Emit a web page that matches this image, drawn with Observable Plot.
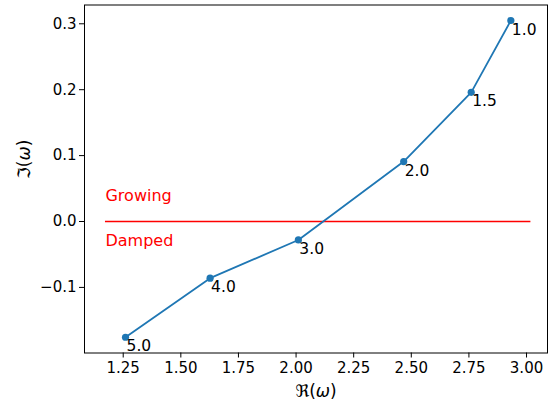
<!DOCTYPE html>
<html>
<head>
<meta charset="utf-8">
<script src="https://cdn.jsdelivr.net/npm/d3@7"></script>
<script src="https://cdn.jsdelivr.net/npm/@observablehq/plot@0.6"></script>
<style>
  html, body { margin: 0; padding: 0; background: #fff; }
  svg { display: block; }
</style>
</head>
<body>
<div id="chart"></div>
<script>
// Complex frequency ω for each parameter value
const params = ["5.0", "4.0", "3.0", "2.0", "1.5", "1.0"];
const reOmega = [1.26, 1.627, 2.01, 2.467, 2.76, 2.932];
const imOmega = [-0.1756, -0.086, -0.028, 0.091, 0.196, 0.305];

// Stability boundary and region labels
const boundaryX = [1.173, 3.019];
const regionText = ["Growing", "Damped"];
const regionY = [0.039, -0.030];

const xTicks = [1.25, 1.5, 1.75, 2.0, 2.25, 2.5, 2.75, 3.0];
const yTicks = [-0.1, 0.0, 0.1, 0.2, 0.3];

const points = params.map((p, i) => ({label: p, re: reOmega[i], im: imOmega[i]}));
const regions = regionText.map((t, i) => ({text: t, x: boundaryX[0], y: regionY[i]}));

const fmt = (d, n) => d.toFixed(n).replace("-", "\u2212");
const font = "'DejaVu Sans', sans-serif";

const chart = Plot.plot({
  width: 548,
  height: 400,
  marginLeft: 84,
  marginRight: 1,
  marginTop: 4.5,
  marginBottom: 47.5,
  style: {fontFamily: font, fontSize: "15px", color: "#000", background: "#fff"},
  x: {domain: [1.082, 3.091]},
  y: {domain: [-0.1995, 0.3285]},
  marks: [
    Plot.axisX({ticks: xTicks, tickFormat: d => fmt(d, 2), tickSize: 5, tickPadding: 4, label: null, fontSize: 15, stroke: "#000"}),
    Plot.axisY({ticks: yTicks, tickFormat: d => fmt(d, 1), tickSize: 5, tickPadding: 3, label: null, fontSize: 15, stroke: "#000"}),
    Plot.ruleY([0], {x1: boundaryX[0], x2: boundaryX[1], stroke: "red", strokeWidth: 1.5}),
    Plot.text(regions, {x: "x", y: "y", text: "text", fill: "red", textAnchor: "start", lineAnchor: "middle", fontSize: 16}),
    Plot.line(points, {x: "re", y: "im", stroke: "#1f77b4", strokeWidth: 1.8}),
    Plot.dot(points, {x: "re", y: "im", r: 3.6, fill: "#1f77b4", stroke: "none"}),
    Plot.text(points, {x: "re", y: "im", text: "label", textAnchor: "start", lineAnchor: "top", dx: 1, dy: 3, fontSize: 15.5, fill: "#000"}),
    Plot.frame({stroke: "#000", strokeWidth: 1}),
    Plot.text(["\u211C(\u03C9)"], {frameAnchor: "bottom", dy: 39, lineAnchor: "middle", fontSize: 17, fill: "#000"}),
    Plot.text(["\u2111(\u03C9)"], {frameAnchor: "left", dx: -60, rotate: -90, lineAnchor: "middle", fontSize: 17, fill: "#000"})
  ]
});

// Set the ω of the axis titles in italics, as in math notation
d3.select(chart).selectAll("text")
  .filter(function () { return this.textContent.includes("\u03C9"); })
  .each(function () {
    const parts = this.textContent.split("\u03C9");
    const t = d3.select(this).text(null);
    t.append("tspan").text(parts[0]);
    t.append("tspan").attr("font-style", "italic").text("\u03C9");
    t.append("tspan").text(parts[1]);
  });

document.getElementById("chart").append(chart);
</script>
</body>
</html>
